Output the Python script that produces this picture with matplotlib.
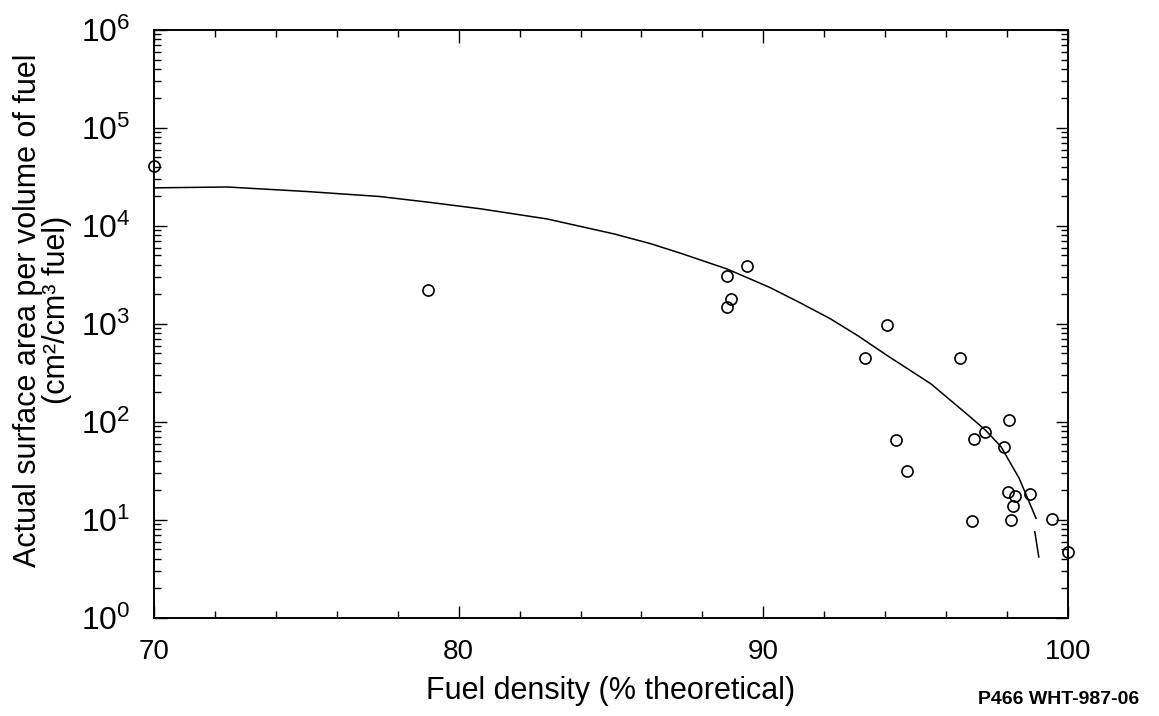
import numpy as np
import matplotlib
matplotlib.use("Agg")
import matplotlib.pyplot as plt
from matplotlib.ticker import LogLocator, MultipleLocator, LogFormatterMathtext, NullFormatter

plt.rcParams['font.family'] = ['Liberation Sans', 'DejaVu Sans']

# measured points (fuel density %TD, surface area cm2/cm3)
dens = [70.0, 79.0, 89.47, 88.82, 88.94, 88.80, 94.06, 93.34, 96.46, 94.36,
        94.72, 98.05, 97.28, 96.92, 97.89, 98.04, 98.25, 98.20, 98.75, 96.86,
        98.13, 99.48, 100.0]
area = [41000, 2240, 3950, 3110, 1800, 1480, 970, 455, 445, 66,
        31.5, 104, 79, 66.7, 55, 19.4, 17.5, 13.9, 18.3, 9.7,
        10.0, 10.3, 4.7]

# fitted curve
fit_x = [70, 72.4, 75, 77.4, 79.0, 80.7, 82.9, 85.1, 86.3, 87.3, 88.8, 90.2, 91.2, 92.2,
         93.1, 94.05, 95.5, 96.8, 97.3, 97.8, 98.4, 98.95]
fit_y = [24500, 25000, 22500, 20000, 17500, 15000, 11800, 8300, 6600, 5250, 3650, 2370, 1650, 1130,
         760, 480, 245, 112, 82, 56, 26.5, 10.4]
# extrapolated (dashed) end
ext_x = [98.91, 99.04]
ext_y = [7.6, 4.2]

fig = plt.figure(figsize=(11.59, 7.16), dpi=100)
ax = fig.add_axes([0.1329, 0.1369, 0.7886, 0.8212])

ax.plot(fit_x, fit_y, color='black', lw=1.1)
ax.plot(ext_x, ext_y, color='black', lw=1.1)
ax.plot(dens, area, 'o', mfc='none', mec='black', ms=8, mew=1.2, clip_on=False)

ax.set_yscale('log')
ax.set_xlim(70, 100)
ax.set_ylim(1, 1e6)

ax.xaxis.set_major_locator(MultipleLocator(10))
ax.xaxis.set_minor_locator(MultipleLocator(2))
ax.yaxis.set_major_locator(LogLocator(base=10, numticks=10))
ax.yaxis.set_major_formatter(LogFormatterMathtext())
ax.yaxis.set_minor_locator(LogLocator(base=10, subs=np.arange(2, 10), numticks=20))
ax.yaxis.set_minor_formatter(NullFormatter())

ax.tick_params(which='both', direction='in', top=True, right=True, width=1.0, color='black')
ax.tick_params(which='major', length=9)
ax.tick_params(which='minor', length=5)
ax.tick_params(axis='x', which='major', labelsize=20, pad=15)
ax.tick_params(axis='y', which='major', labelsize=23, pad=17)

for s in ax.spines.values():
    s.set_linewidth(1.4)

ax.set_xlabel('Fuel density (% theoretical)', fontsize=22)
ax.xaxis.set_label_coords(0.5, -0.125)
ax.xaxis.label.set_va('center')

ax.set_ylabel('Actual surface area per volume of fuel\n(cm\u00b2/cm\u00b3 fuel)',
              fontsize=22, linespacing=0.95, va='center')
ax.yaxis.set_label_coords(-0.122, 0.524)

fig.text(0.913, 1 - 700 / 716, 'P466 WHT-987-06', fontsize=14, fontweight='bold',
         ha='center', va='center')

fig.savefig('out.png', dpi=100)
